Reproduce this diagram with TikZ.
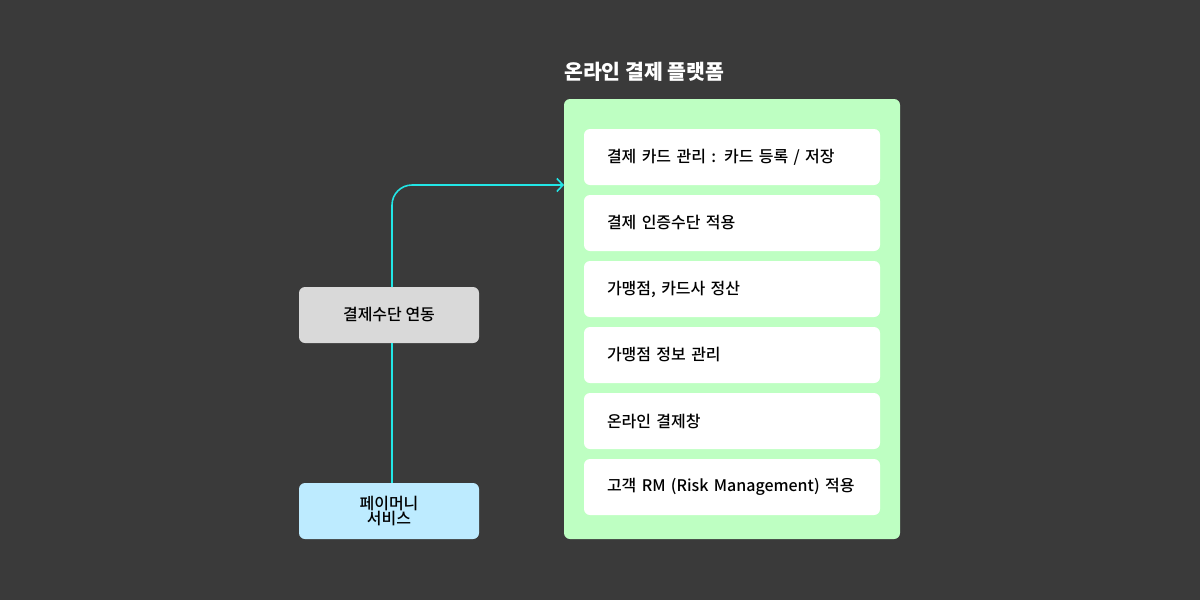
\documentclass[tikz,border=0pt]{standalone}
\usepackage{fontspec}
\setmainfont{Noto Sans CJK KR}
\newfontfamily\krmed{Noto Sans CJK KR Medium}
\usetikzlibrary{positioning,arrows.meta}
\definecolor{canvas}{HTML}{3A3A3A}
\definecolor{gatefill}{HTML}{D9D9D9}
\definecolor{payfill}{HTML}{BDEBFF}
\definecolor{platfill}{HTML}{BEFFC2}
\definecolor{linkcol}{HTML}{22E6E6}
\tikzset{
  box/.style={rounded corners=6pt, minimum width=180pt, minimum height=56pt, outer sep=0pt,
    align=center, font=\krmed\fontsize{16}{16}\selectfont, text=black},
  item/.style={fill=white, rounded corners=6pt, minimum width=296pt, minimum height=56pt, outer sep=0pt,
    inner xsep=23pt, text width=250pt, align=left, font=\krmed\fontsize{16}{18}\selectfont},
  link/.style={draw=linkcol, line width=1.6pt},
}
\begin{document}
\begin{tikzpicture}[x=1pt, y=-1pt]
\fill [canvas] (0,0) rectangle (1200,600) ;
\useasboundingbox (0,0) rectangle (1200,600) ;

\node [fill=platfill, rounded corners=6pt, minimum width=336pt, minimum height=440pt] (platform) at (732,319) {} ;
\node [anchor=west, text=white, inner sep=0pt, font=\bfseries\fontsize{20.5}{22}\selectfont] (title) at (564,72) {온라인 결제 플랫폼} ;

\node [item] (card) at (732,157) {결제 카드 관리 : 카드 등록 / 저장} ;
\node [item, below=10pt of card] (auth) {결제 인증수단 적용} ;
\node [item, below=10pt of auth] (settle) {가맹점, 카드사 정산} ;
\node [item, below=10pt of settle] (store) {가맹점 정보 관리} ;
\node [item, below=10pt of store] (window) {온라인 결제창} ;
\node [item, below=10pt of window] (risk) {고객 RM (Risk Management) 적용} ;

\node [box, fill=gatefill] (gate) at (389,315) {결제수단 연동} ;
\node [box, fill=payfill, font=\krmed\fontsize{16}{15.5}\selectfont] (pay) at (389,511) {페이머니\\서비스} ;

\coordinate (entry) at (564,185) ;
\draw [link] ([xshift=3pt]pay.north) -- ([xshift=3pt]gate.south) ;
\draw [link, -{Straight Barb[length=6pt, width=13pt]}, rounded corners=20pt] ([xshift=3pt]gate.north) |- (entry) ;

\end{tikzpicture}
\end{document}
